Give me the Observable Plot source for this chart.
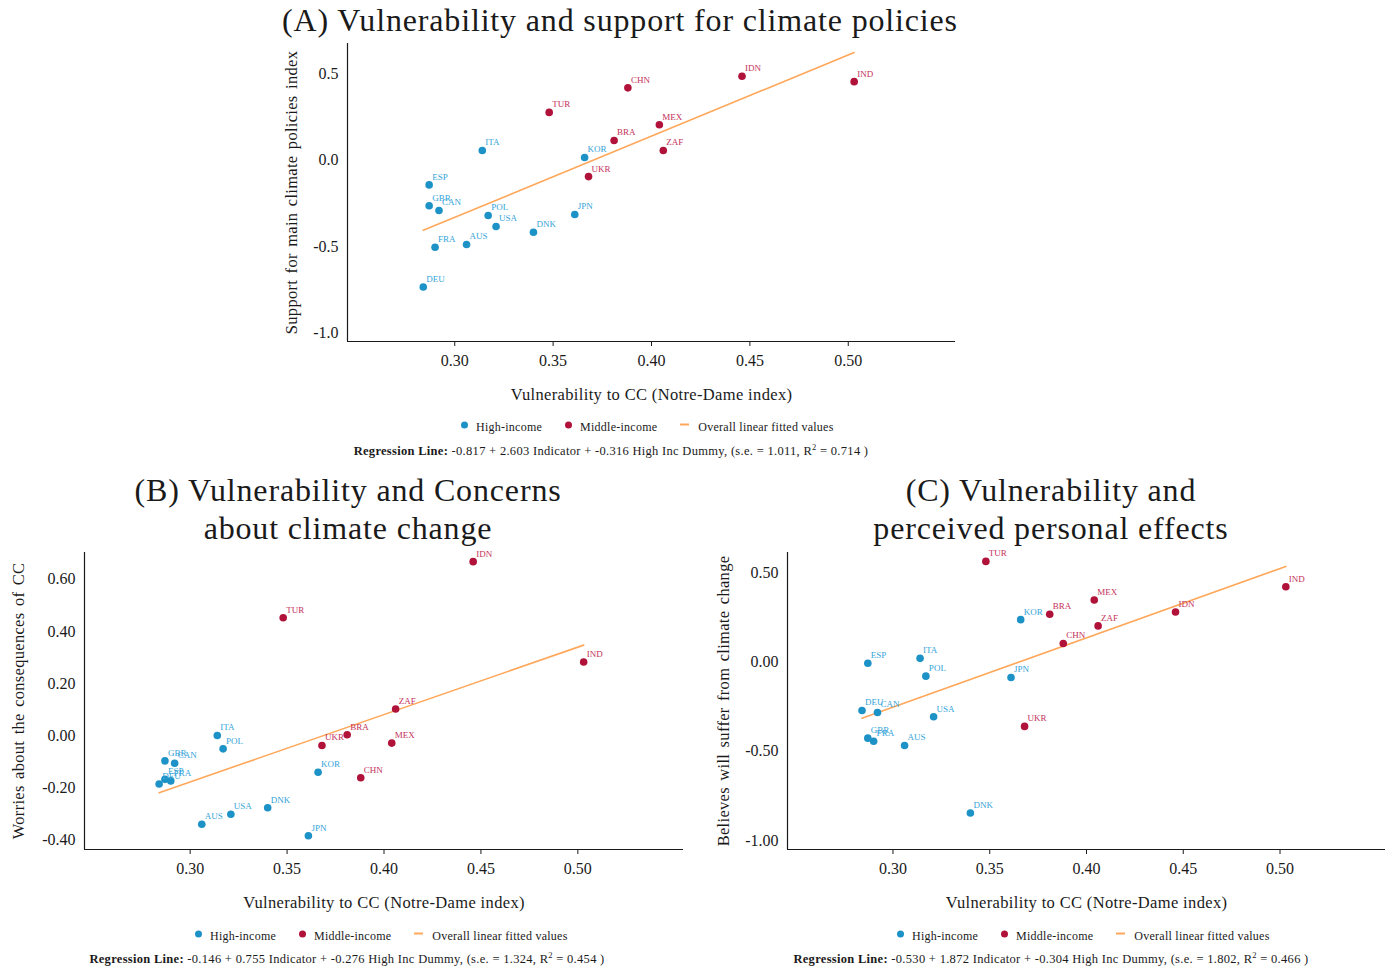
<!DOCTYPE html>
<html><head><meta charset="utf-8">
<script src="https://cdn.jsdelivr.net/npm/d3@7"></script>
<script src="https://cdn.jsdelivr.net/npm/@observablehq/plot@0.6"></script>
<style>
body{margin:0;background:#fff;font-family:"Liberation Serif",serif;color:#1a1a1a;}
#root{position:relative;width:1400px;height:971px;overflow:hidden;background:#fff;}
.abs{position:absolute;}
.title{font-size:32px;letter-spacing:0.84px;text-align:center;white-space:nowrap;transform:translate(-50%,0);line-height:38px;}
.legend{font-size:12px;letter-spacing:0.25px;display:flex;align-items:center;white-space:nowrap;transform:translate(0,-50%);}
.legend .dot{display:inline-block;width:7px;height:7px;border-radius:50%;margin-right:8px;position:relative;top:-2px;}
.legend .dash{display:inline-block;width:9px;height:2px;margin-right:9px;position:relative;top:-3px;}
.legend .item{display:inline-flex;align-items:center;margin-right:23px;}
.reg{font-size:12.5px;letter-spacing:0.3px;white-space:nowrap;transform:translate(-50%,-50%);}
.reg sup{font-size:8.5px;vertical-align:5px;line-height:0;}
</style>
</head><body><div id="root"></div>
<script>
// ---------------- data ----------------
const countries = ["AUS","CAN","DEU","DNK","ESP","FRA","GBR","ITA","JPN","KOR","POL","USA","BRA","CHN","IDN","IND","MEX","TUR","UKR","ZAF"];
const income    = ["H","H","H","H","H","H","H","H","H","H","H","H","M","M","M","M","M","M","M","M"];
const vulnerability = [0.306,0.292,0.284,0.340,0.287,0.290,0.287,0.314,0.361,0.366,0.317,0.321,0.381,0.388,0.446,0.503,0.404,0.348,0.368,0.406];
const supportPolicies = [-0.488,-0.291,-0.734,-0.417,-0.143,-0.504,-0.264,0.056,-0.314,0.016,-0.320,-0.384,0.114,0.419,0.486,0.455,0.205,0.277,-0.095,0.056];
const worriesCC       = [-0.339,-0.105,-0.185,-0.276,-0.167,-0.173,-0.096,0.001,-0.383,-0.140,-0.050,-0.301,0.004,-0.161,0.668,0.283,-0.028,0.453,-0.037,0.103];
const sufferCC        = [-0.467,-0.282,-0.271,-0.846,-0.006,-0.443,-0.426,0.022,-0.086,0.239,-0.078,-0.306,0.269,0.105,0.282,0.424,0.349,0.566,-0.360,0.204];

const xTicks = [0.30,0.35,0.40,0.45,0.50];
const yTicksA = [0.5,0.0,-0.5,-1.0];
const yTicksB = [0.60,0.40,0.20,0.00,-0.20,-0.40];
const yTicksC = [0.50,0.00,-0.50,-1.00];

const titles = [["(A) Vulnerability and support for climate policies"],["(B) Vulnerability and Concerns","about climate change"],["(C) Vulnerability and","perceived personal effects"]];
const yLabels = ["Support for main climate policies index","Worries about the consequences of CC","Believes will suffer from climate change"];
const xLabel = "Vulnerability to CC (Notre-Dame index)";
const legendLabels = ["High-income","Middle-income","Overall linear fitted values"];
// regression text: intercept, indicator coef, high-inc dummy coef, s.e., R2
const regIntercept = ["-0.817","-0.146","-0.530"];
const regIndicator = ["2.603","0.755","1.872"];
const regDummy     = ["-0.316","-0.276","-0.304"];
const regSE        = ["1.011","1.324","1.802"];
const regR2        = ["0.714","0.454","0.466"];

// ---------------- style ----------------
const blue = "#1c92c6", blueLabel = "#35a4d8";
const red = "#b0123a", redLabel = "#c4315a";
const orange = "#ffa75a";
const font = "Liberation Serif, serif";
const xDomain = [0.2455, 0.5545];

function panel(yVals, yDomain, yTicks, digits, yLabel, m, yLabelDx) {
  const data = countries.map((c,i)=>({c, g: income[i], x: vulnerability[i], y: yVals[i]}));
  const hi = data.filter(d=>d.g==="H"), mid = data.filter(d=>d.g==="M");
  const svg = Plot.plot({
    width: 700, height: 380,
    marginLeft: m.l, marginRight: m.r, marginTop: m.t, marginBottom: m.b,
    style: {fontFamily: font, fontSize: "16px", color: "#1a1a1a", background: "transparent", overflow: "visible"},
    x: {domain: xDomain},
    y: {domain: yDomain},
    marks: [
      Plot.axisX({ticks: xTicks, tickSize: 5, tickPadding: 8, tickFormat: d=>d.toFixed(2), label: null, fontSize: 16}),
      Plot.axisY({ticks: yTicks, tickSize: 0, tickPadding: 9, tickFormat: d=>d.toFixed(digits), label: null, fontSize: 16}),
      Plot.text([xLabel], {text: d=>d, frameAnchor: "bottom", dy: 53, textAnchor: "middle", lineAnchor: "middle", fontSize: 16.5, fill: "#1a1a1a"}),
      Plot.text([yLabel], {text: d=>d, frameAnchor: "left", rotate: -90, dx: yLabelDx, textAnchor: "middle", lineAnchor: "middle", fontSize: 16.5, fill: "#1a1a1a"}),
      Plot.ruleX([xDomain[0]], {stroke: "#1a1a1a", strokeWidth: 1.2}),
      Plot.ruleY([yDomain[0]], {stroke: "#1a1a1a", strokeWidth: 1.2}),
      Plot.linearRegressionY(data, {x: "x", y: "y", ci: 0, stroke: orange, strokeWidth: 1.6}),
      Plot.dot(hi, {x: "x", y: "y", r: 3.8, fill: blue}),
      Plot.dot(mid, {x: "x", y: "y", r: 3.8, fill: red}),
      Plot.text(hi, {x: "x", y: "y", text: "c", dx: 3, dy: -8, textAnchor: "start", fontSize: 9, fill: blueLabel}),
      Plot.text(mid, {x: "x", y: "y", text: "c", dx: 3, dy: -8, textAnchor: "start", fontSize: 9, fill: redLabel})
    ]
  });
  d3.select(svg).selectAll("text").filter(function(){ return this.textContent === xLabel; }).style("letter-spacing", "0.35px");
  d3.select(svg).selectAll("text").filter(function(){ return this.textContent === yLabel; }).style("letter-spacing", "0.3px").style("word-spacing", "2px");
  return svg;
}

const root = document.getElementById("root");
function place(el, left, top) { el.classList.add("abs"); el.style.left = left+"px"; el.style.top = top+"px"; root.appendChild(el); return el; }
function div(cls, html) { const d = document.createElement("div"); d.className = cls; d.innerHTML = html; return d; }

function legend(left, top) {
  const d = div("legend",
    `<span class="item"><span class="dot" style="background:${blue}"></span>${legendLabels[0]}</span>` +
    `<span class="item"><span class="dot" style="background:${red}"></span>${legendLabels[1]}</span>` +
    `<span class="item"><span class="dash" style="background:${orange}"></span>${legendLabels[2]}</span>`);
  place(d, left, top);
}
function reg(i, cx, cy) {
  const d = div("reg", `<b>Regression Line:</b> ${regIntercept[i]} + ${regIndicator[i]} Indicator + ${regDummy[i]} High Inc Dummy, (s.e. = ${regSE[i]}, R<sup>2</sup> = ${regR2[i]} )`);
  place(d, cx, cy);
}

// Panel A
place(div("title", titles[0].join("<br>")), 620, 1);
const pA = panel(supportPolicies, [-1.05, 0.676], yTicksA, 1, yLabels[0], {l: 77, r: 15, t: 13, b: 69}, -56);
place(pA, 270, 30);
legend(461, 427);
reg(0, 611, 451);

// Panel B
place(div("title", titles[1].join("<br>")), 348, 471);
const pB = panel(worriesCC, [-0.436, 0.703], yTicksB, 2, yLabels[1], {l: 84, r: 17, t: 12, b: 71}, -66);
place(pB, 0, 540);
legend(195, 936);
reg(1, 347, 959);

// Panel C
place(div("title", titles[2].join("<br>")), 1051, 471);
const pC = panel(sufferCC, [-1.051, 0.616], yTicksC, 2, yLabels[2], {l: 87, r: 15, t: 12, b: 71}, -64);
place(pC, 700, 540);
legend(897, 936);
reg(2, 1051, 959);
</script>
</body></html>
